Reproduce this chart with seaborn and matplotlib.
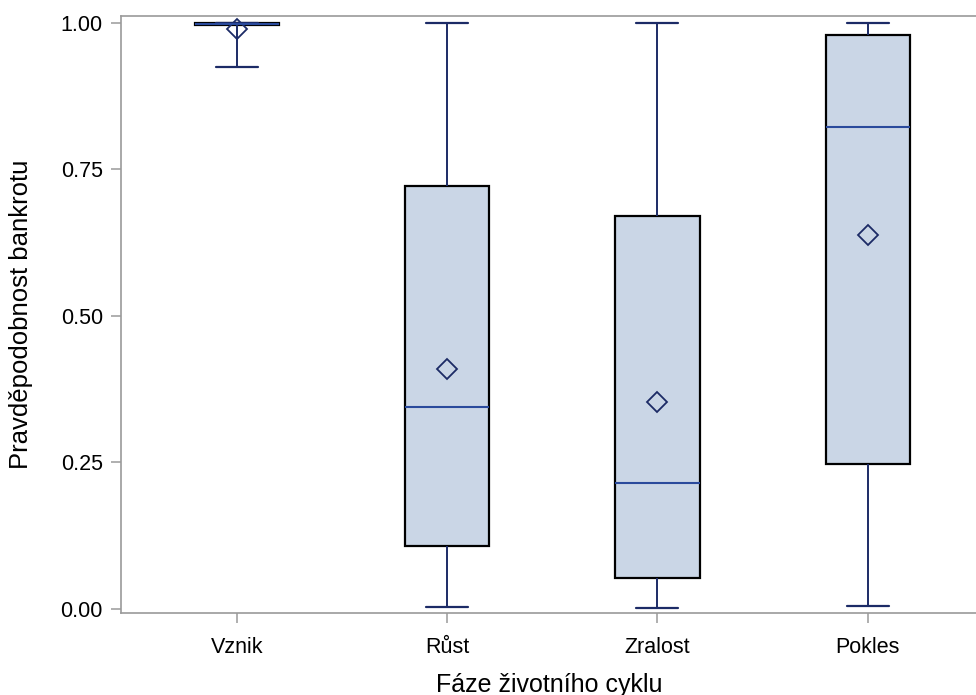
import numpy as np
import pandas as pd
import seaborn as sns
import matplotlib.pyplot as plt

# Box summary values (min, q1, median, q3, max)
phases = ['Vznik', 'Růst', 'Zralost', 'Pokles']
mins = [0.925, 0.003, 0.001, 0.005]
q1s = [0.996, 0.108, 0.053, 0.248]
medians = [0.999, 0.344, 0.215, 0.822]
q3s = [1.000, 0.721, 0.670, 0.979]
maxs = [1.000, 1.000, 1.000, 1.000]
means = [0.990, 0.409, 0.354, 0.639]

yticks = [0.00, 0.25, 0.50, 0.75, 1.00]

box_fill = '#cad6e6'
navy = '#1c2b66'
median_col = '#2a4a9c'
frame_col = '#9a9a9a'


def main():
    # five points per phase -> quartiles land exactly on the read values
    rows = []
    for i, p in enumerate(phases):
        for v in (mins[i], q1s[i], medians[i], q3s[i], maxs[i]):
            rows.append({'phase': p, 'value': v})
    df = pd.DataFrame(rows)
    mean_df = pd.DataFrame({'phase': phases, 'mean': means})

    sns.set_style('white')
    plt.rcParams['font.family'] = ['Liberation Sans', 'DejaVu Sans']
    plt.rcParams['text.color'] = 'black'
    plt.rcParams['axes.labelcolor'] = 'black'
    plt.rcParams['xtick.color'] = 'black'
    plt.rcParams['ytick.color'] = 'black'

    fig = plt.figure(figsize=(9.76, 6.95), dpi=100)
    ax = fig.add_axes([121 / 976, 82 / 695, 856 / 976, 597 / 695])

    sns.boxplot(data=df, x='phase', y='value', order=phases, ax=ax,
                width=0.4, whis=(0, 100), saturation=1, color=box_fill,
                linewidth=1.5, showfliers=False,
                boxprops=dict(facecolor=box_fill, edgecolor='black', linewidth=1.6),
                medianprops=dict(color=median_col, linewidth=1.5),
                whiskerprops=dict(color=navy, linewidth=1.4),
                capprops=dict(color=navy, linewidth=1.6))

    sns.pointplot(data=mean_df, x='phase', y='mean', order=phases, ax=ax,
                  linestyle='none', marker='D', errorbar=None, color=navy,
                  markersize=10, markerfacecolor='none',
                  markeredgecolor=navy, markeredgewidth=1.3)

    ax.set_xlim(-0.552, 3.52)
    ax.set_ylim(-0.007, 1.012)
    ax.set_yticks(yticks)
    ax.set_yticklabels([f'{t:.2f}' for t in yticks])

    ax.set_xlabel('Fáze životního cyklu', fontsize=18, labelpad=11)
    ax.set_ylabel('Pravděpodobnost bankrotu', fontsize=18.5, labelpad=20)

    for side in ['left', 'bottom', 'top']:
        ax.spines[side].set_visible(True)
        ax.spines[side].set_color(frame_col)
        ax.spines[side].set_linewidth(1.2)
    ax.spines['right'].set_visible(False)

    ax.tick_params(axis='both', which='major', direction='out', length=7,
                   width=1.1, color=frame_col, labelsize=15.5,
                   labelcolor='black', left=True, bottom=True)
    ax.tick_params(axis='x', pad=10)
    ax.tick_params(axis='y', pad=6)

    fig.savefig('out.png', dpi=100)


if __name__ == "__main__":
    main()
